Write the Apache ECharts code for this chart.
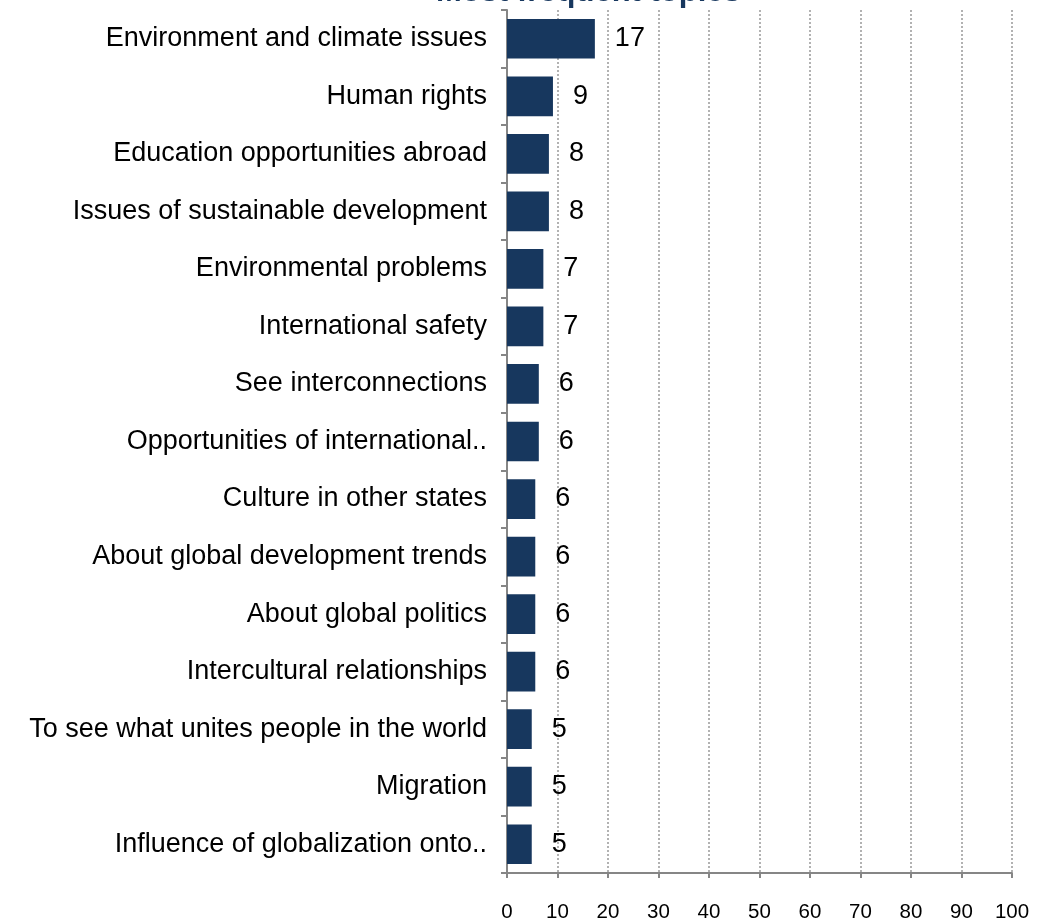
<!DOCTYPE html>
<html>
<head>
<meta charset="utf-8">
<script src="https://cdn.jsdelivr.net/npm/echarts@6/dist/echarts.min.js"></script>
<style>html,body{margin:0;padding:0;background:#fff;}#c{width:1055px;height:923px;}</style>
</head>
<body>
<div id="c"></div>
<script>
const titleText = "Most frequent topics";
const categories = [
  "Environment and climate issues",
  "Human rights",
  "Education opportunities abroad",
  "Issues of sustainable development",
  "Environmental problems",
  "International safety",
  "See interconnections",
  "Opportunities of international..",
  "Culture in other states",
  "About global development trends",
  "About global politics",
  "Intercultural relationships",
  "To see what unites people in the world",
  "Migration",
  "Influence of globalization onto.."
];
const values = [17.4, 9.1, 8.3, 8.3, 7.2, 7.2, 6.3, 6.3, 5.6, 5.6, 5.6, 5.6, 4.9, 4.9, 4.9];
const xTicks = [0, 10, 20, 30, 40, 50, 60, 70, 80, 90, 100];

const chart = echarts.init(document.getElementById('c'));
chart.setOption({
  animation: false,
  backgroundColor: '#ffffff',
  title: {
    text: titleText,
    left: 436,
    top: -23,
    padding: 0,
    textStyle: { fontFamily: 'Liberation Sans, Arial', fontSize: 31, fontWeight: 'bold', color: '#17375E' }
  },
  grid: { left: 507, right: 43, top: 10, bottom: 47, containLabel: false },
  xAxis: {
    type: 'value',
    min: xTicks[0],
    max: xTicks[xTicks.length - 1],
    interval: 10,
    axisLine: { show: true, lineStyle: { color: '#868686', width: 2 } },
    axisTick: { show: true, length: 5, lineStyle: { color: '#868686', width: 2 } },
    axisLabel: { margin: 29, color: '#000', fontSize: 20.5, fontFamily: 'Liberation Sans, Arial' },
    splitLine: { show: true, lineStyle: { color: '#999999', type: [2, 2], width: 1.5 } }
  },
  yAxis: {
    type: 'category',
    data: categories,
    inverse: true,
    axisLine: { show: true, lineStyle: { color: '#868686', width: 2 } },
    axisTick: { show: true, length: 6, lineStyle: { color: '#868686', width: 2 } },
    axisLabel: { margin: 20, color: '#000', fontSize: 27, fontFamily: 'Liberation Sans, Arial' }
  },
  series: [{
    type: 'bar',
    data: values,
    barCategoryGap: '31%',
    itemStyle: { color: '#17375E' },
    label: {
      show: true,
      position: 'right',
      distance: 20,
      color: '#000',
      fontSize: 27,
      fontFamily: 'Liberation Sans, Arial',
      formatter: p => Math.round(p.value)
    }
  }]
});
</script>
</body>
</html>
